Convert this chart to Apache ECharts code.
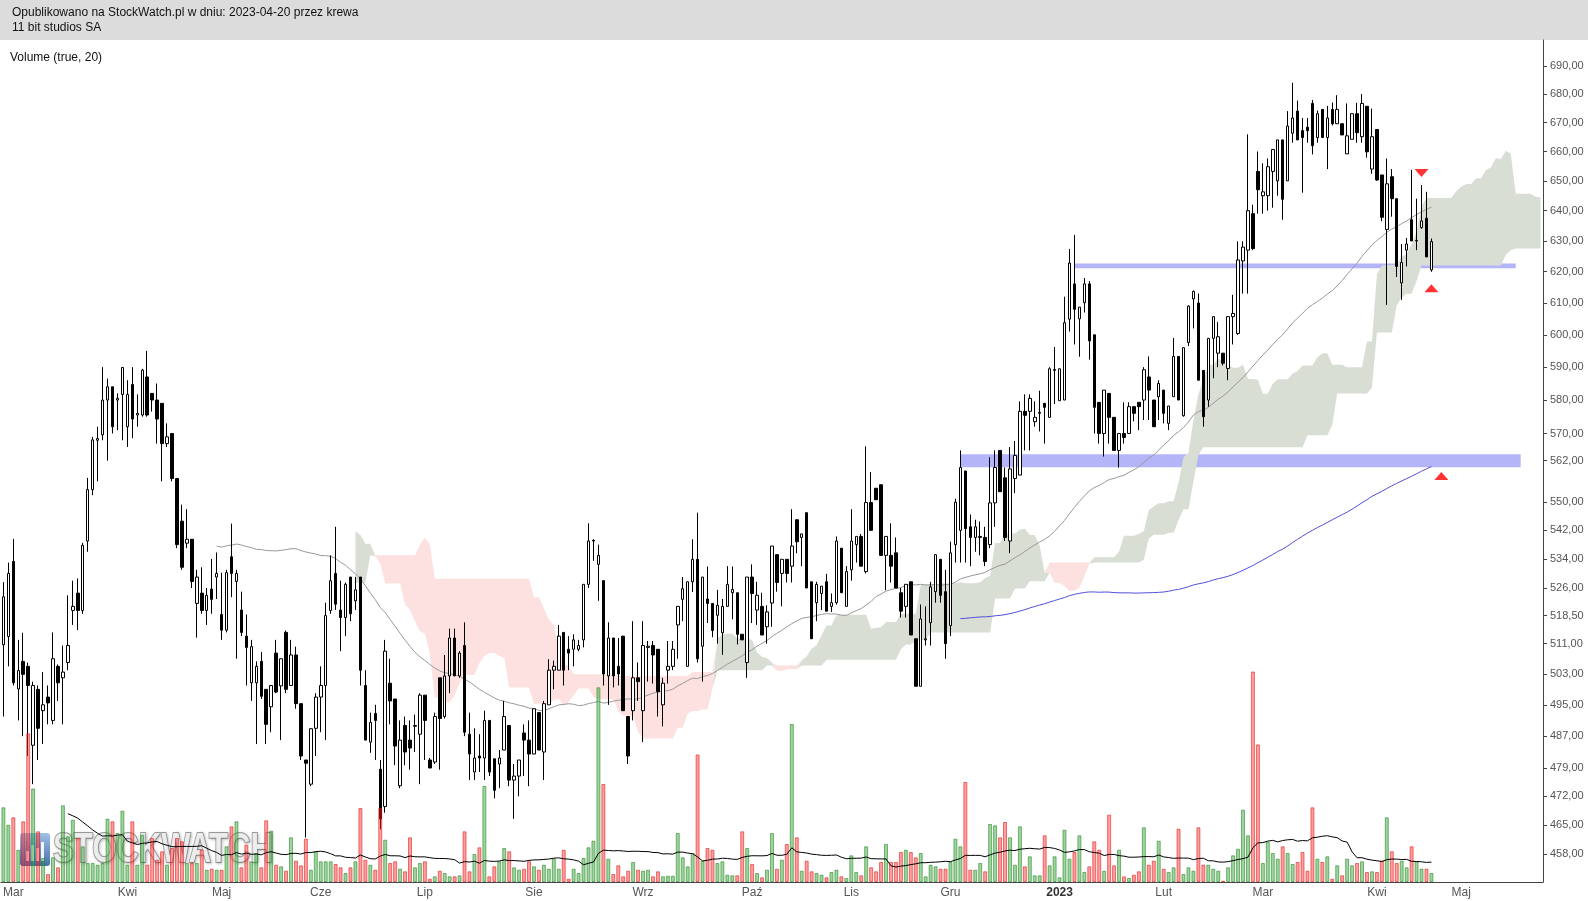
<!DOCTYPE html>
<html><head><meta charset="utf-8">
<script src="https://cdn.jsdelivr.net/npm/echarts@6/dist/echarts.min.js"></script>
<style>html,body{margin:0;padding:0;background:#fff}#c{width:1588px;height:901px}</style>
</head><body><div id="c"></div>
<script>
// ---- daily candles, 11 bit studios SA (visible window) ----
const opens = [
510.7,512.9,533.3,499.1,506.3,505,484.7,499,493.5,497,
491,505,502,506,519.9,524.6,519.9,539,553.6,568,
569.6,580,584,580,581.7,572,584.7,575.5,575.5,587,
582,580,579,567,570,556.8,544.6,538.4,539.5,521.8,
524.6,519.9,525.7,529,518.8,514.6,534.6,527.8,520,513,
500.7,500.7,506.3,499,494.5,508.5,499.9,514,500,508,
495.3,481,475,489,497,500,519.9,530,520,518,
529,522.5,529,500,485.5,492.8,478.7,469.5,500.6,496.5,
474.6,489.7,486,489.5,487.5,497.5,481,480.5,502,492,
502.5,512.5,502.5,510.5,487.5,478,482,481.5,491,481.3,
480,483.5,489.7,476,477,487.8,486,482.5,493,483,
495,504,504,514,509.5,509.5,509.5,512,527,539,
532.5,528,502.5,512.5,505,513,492,493.5,502,493.5,
510,510.5,509.5,495,504,505,516,522.9,505,527.7,
533.9,510.3,523,521.8,518.6,513.9,521,524.7,524.7,513.5,
506,529,520,521,515.5,521.9,535.2,530,533.9,532,
545,540,547,527.7,522,524.5,527.7,521,522,537,
521,531,538,540.3,530.5,549.9,554,555,535,535,
535.7,524.7,521,527.7,512.3,499.8,512,516.6,525,533.9,
525,515.8,538,542,559,543,540,540,540,538,
549.8,565,557,539,556.8,557.8,576.6,576.6,573.5,576,
579,574.8,589,579.8,580,604.9,616.1,605,610.1,616.1,
600,579.3,570,582,574.8,565,570,570,578,579.3,
580,587,580,581,583,573,581,593.3,575.3,597.6,
611.3,610,589,580,598.9,594.3,594.3,589.6,605.7,600.4,
623.5,627,639,653.2,645,645,653.2,650,664,650,
666.3,674,667.2,668.4,676.7,664.8,674.6,664.8,674.6,669.6,
669.6,659.2,664.2,673.1,665.1,675.7,654,667.6,652,633.8,
651.4,644,616.4,627,637,630,634.4,637.5,620.6
];
const highs = [
527.6,533,539.6,512,513.9,506,501,500,503.5,500,
514,505.5,510.5,524,528,528.6,538.5,557,569,572,
590,586.5,584,582,590,586,590,581.7,589.5,595,
582,585,579,573,570,557,549.3,548,539.5,531,
531.7,526,534,535.8,530.2,531,543.9,531,525,518.8,
512,506.3,508.8,499,500,512,507,514.5,512,510.2,
495.3,481,489,498,505,522,535,543,528,527.5,
529,529,529,504,493,495,481,512,507,496.5,
491,492,491,492.5,498,497.5,481.5,493,502,508,
515,515,509,516.7,493,489,487.5,493.5,491,481.3,
483.5,496,489.7,480,481,490,491,494,493,496,
506.9,506.5,516,514,513,513.5,512,527,544,539.5,
538,528,516.7,512.5,512.5,513,492,517,506,517,
511.7,511.7,509.5,502,511.7,511.7,521,529,527.7,539.5,
547,529,531.9,521.8,525.5,523,532,531.9,524.7,513.5,
529,532.5,527.7,524.7,521.3,537.6,535.2,533.9,533.9,548,
545,541,547,527.7,527.7,526.5,529.9,524.5,540.3,537,
532,548,540.3,541,566.2,558.7,554,555,540.3,544,
540,526,527,527.7,512.3,521.5,521,527.7,535.2,533.9,
531,538.8,551,565,559,546.5,545,544.5,543,563,
565,565,560,566,567.8,579.6,581.7,581.7,579.6,582.8,
579,590,596.2,589.5,612,627.4,632,608.7,618,617,
600,579.3,583,582,574.8,570,579.3,579.3,578,579.3,
590,593.3,580,586,583,578.2,599,593.3,596,609.3,
614,613,589,599,605.7,604,594.3,605.7,612.6,629.9,
629.9,665.9,642,660,656,657.6,660.7,664,664,674,
684,677.7,671.6,671.6,677.9,674.2,674.6,675.8,677,679.6,
669.6,676.7,673.1,676.9,680,675.7,674.9,667.6,652,657.6,
654,644,629,631,653.7,644,648.6,646.3,630.8
];
const lows = [
492,505,500,491,487,482,475,481,485,490,
490,496,490,504,516,514.6,519,536,552,556,
568,562,570,571,568,566,568.6,572,575,575,
576.5,567,556,566,556,537,531,537,526,512.6,
519,516,519,523,512,514,523.5,507,513,500,
496,485,496.5,485,488,498,486,498,500,494,
481,462,474.5,482,488,486,519,520,509,513,
517,520,500,486,482.8,481,464,468,490,479.7,
474,479.7,478.6,483,475,481,479,480,478.6,491.5,
498,502.5,502,487,476,476,478,476,477,471.5,
474,483.5,474.5,466.5,472,477,474.5,482.5,483.5,476,
495,499,504,500,504,505,509,510,526,533.5,
522.5,500,495,499.5,500,493.5,480,491,496,485.5,
501,500.5,492,489.5,500.5,504,507,517,505,524.9,
506,501,516.5,512.7,511,508,521,517.5,510.8,512,
502,516.5,516,513.3,511,515.5,525,521,527.5,527.5,
535.6,532,526,512.3,517,520,519.7,519.5,521.5,524.7,
521,528,533,532,530,542,550.7,535,525.4,527.5,
526,518,518,513.3,499.8,499.8,510.5,510.5,522,522,
507,513,533,533,533,532,536,535,532,537,
543,553,539,535.6,552.6,557.8,565,565,572,570.6,
567,574.8,578.8,579.8,580,601,597,593.2,607,592.3,
570,567,563.2,567,565,560,567,570,573.6,571,
574,574,572,574,573,571,581,580,575,596.5,
602,586,572,578,586.6,590,590.5,586,597,600,
613,613,627,639,639,640,641,645,637,650,
663,664,646,663,659,663,664.8,654,669,669.6,
665.7,659.2,664.2,663,663,657.9,652.4,650,636.5,609.4,
638,618.3,611,621.7,630,627,634,624.8,620
];
const closes = [
523.6,530,500.7,503.9,502.9,500,500,489,495,495.5,
507,500.7,503.5,510.5,521,519.9,537.8,553.6,568.1,568.5,
580,584,572,580.5,589.9,581.7,574.3,576,589.1,575.5,
580,574.3,567,569,556.8,538,531.7,539.5,527.8,529,
519.9,524,522.9,530,514.6,530.2,530,530,514,510,
510.2,505,497.2,490,500,498.3,507,499,508,495.3,
482,480.2,488.9,497,500,518.5,528,521.6,518,527,
519,525.5,504,486,490.5,491,466.5,509,496,484.5,
486,483,484,489.7,497.5,491,479,492,491.5,502.5,
512.5,502.5,508.5,488,482.5,481.5,481.5,491,478,473.5,
481.5,492,476,477,481,486,482.5,494,483.5,495.3,
504,505,513,504,508.5,512,510.5,527,539,539.2,
535,503,512.5,502.5,503,493.5,482,502,501,510.5,
510.3,508,498.4,500.6,505,509.5,521,525.8,527.7,533.9,
507,529,521.8,514.5,521.3,521,527,525.6,513.5,512,
529,524.5,524,513.3,519.5,537.6,527.5,533.9,530,537.6,
538.8,541,526,512.3,527,526.5,519.7,522,539,524.7,
530.5,539,540.3,532,549.9,542,550.7,535,540.3,532,
526,519.7,527,513.3,499.8,517.6,512.3,526.3,535.2,524,
511,535.7,550,560,542.5,540,543,540.3,533.3,549.8,
560,553,540,559.6,563.5,576.6,575.4,580.5,574.8,576.3,
577.8,589.5,589.3,589.5,603.8,622.8,608,608.7,616.1,598.1,
577.8,570,583,574.8,565,570,568.8,578,576,578,
589.2,583,572,585,576,578.2,593.3,580,596,609,
613.7,586,575,598.9,605.7,599.4,591.2,605.7,606.7,623.8,
628,640,627.5,647,646.3,654.8,660.7,664,643.8,668.8,
671.6,664,664.8,667.2,662,673.1,664.8,671.6,669.6,674.6,
665.7,665.4,673.1,666.5,676.7,659.9,665.1,650.3,637.8,649,
644,621.7,623,629,630,630.2,636.6,624.8,629.8
];
const volumes = [
14940,11460,12940,6460,12140,29740,18700,10140,4800,1600,
4940,2940,15340,9140,12460,8800,7140,3800,3800,3460,
3800,12660,12140,9800,14260,3460,12140,3460,9460,3460,
8800,4460,6140,3460,6800,8800,8140,3800,3800,3800,
6460,2460,2660,2460,2460,7140,11140,12140,2940,7460,
4140,5800,2940,12340,10260,3460,3140,2260,8940,4260,
3340,8660,2460,6140,4140,4140,4140,3600,2940,1800,
2940,4140,14800,4460,3460,2460,14800,8460,3800,4140,
2660,2140,8940,2940,3800,4140,660,1140,2260,1800,
1140,1140,1340,10140,2140,5600,6940,19200,1140,3140,
4140,6800,6140,2940,2460,2660,4140,3140,2460,3460,
2660,4660,2660,6460,660,2660,1800,4800,6940,8260,
38940,19600,4660,1600,3340,1140,2260,4000,2460,2260,
2460,1140,2140,1140,1260,1260,9800,4940,3140,5800,
25500,4260,6800,6460,3800,4140,1460,1340,1340,10140,
6800,3600,1800,940,2460,9800,2660,4460,7600,31600,
8940,2260,4260,2140,1800,1460,940,2000,2460,1140,
800,5340,2000,1340,7140,2940,2140,4000,7600,4000,
4000,6000,6460,6000,4940,5800,1140,3460,3140,2660,
2660,4000,8660,7140,20000,2460,2460,3800,2140,11600,
11340,8940,12000,8940,3460,11140,3140,5140,1340,1340,
9340,3340,5140,940,10460,4660,6000,9340,2000,3140,
8140,6460,2260,13460,3340,6460,1140,800,1460,2140,
10940,3460,4260,8260,2660,2000,2940,10660,1600,2940,
2260,10940,3460,3460,2660,2260,260,2940,5340,6660,
14460,9340,42100,27520,3800,8000,5800,4660,7140,5800,
3600,4000,6000,2260,14940,4660,4000,5140,660,3340,
1340,4660,3340,3800,4140,2000,2140,2000,4260,12940,
6140,3800,4260,2940,7140,4140,2660,2660,1800
];
// pre-window history (estimated, not drawn) needed to start the indicators
const warmOpens = [540,528,505,522,516,528];
const warmHighs = [545,530,525,532,534,536];
const warmLows = [528,510,460,510,512,522];
const warmCloses = [530,512,520,515,528,531];
const warmVolumes = [21000,18000,23000,19000,20000,17000];

// axis ticks / labels
const monthTicks = [[2,'Mar'],[25,'Kwi'],[44,'Maj'],[64,'Cze'],[85,'Lip'],[107,'Sie'],[129,'Wrz'],[151,'Paź'],[171,'Lis'],[191,'Gru'],[213,'2023'],[234,'Lut'],[254,'Mar'],[277,'Kwi'],[294,'Maj']];
const priceTicks = [690,680,670,660,650,640,630,620,610,600,590,580,570,562,550,542,534,526,518.5,511,503,495,487,479,472,465,458];
// support bands: [fromIndex, toIndex, lowPrice, highPrice]
const supportBands = [[216,305,621.1,622.7],[193,306,560.1,563.9]];
// signal triangles: [index, price, direction]
const signals = [[286,652.7,'down'],[288,614.7,'up'],[290,557.5,'up']];

const SLOTS = 311;
const PRICE_MIN = 451.44, PRICE_MAX = 699.39;
const VOL_MAX = 168400;

const L = Math.log;
const W = warmCloses.length;
const N = closes.length;
const allH = warmHighs.concat(highs), allL = warmLows.concat(lows), allC = warmCloses.concat(closes), allV = warmVolumes.concat(volumes);
const cats = Array.from({length: SLOTS}, (_, i) => String(i));
function sma(arr, n, j){ let s = 0; for (let k = j-n+1; k <= j; k++) s += arr[k]; return s/n; }
const ma50 = [], ma200 = [], vma20 = [];
for (let i = 0; i < N; i++) {
  const j = i + W;
  ma50.push(j >= 49 ? L(sma(allC, 50, j)) : '-');
  ma200.push(j >= 199 ? L(sma(allC, 200, j)) : '-');
  vma20.push(j >= 19 ? sma(allV, 20, j) : '-');
}
function mid(j, n){ let hh = -Infinity, ll = Infinity; for (let k = j-n+1; k <= j; k++){ hh = Math.max(hh, allH[k]); ll = Math.min(ll, allL[k]); } return (hh+ll)/2; }
const cloudLow = Array(SLOTS).fill('-'), cloudUp = Array(SLOTS).fill('-'), cloudDown = Array(SLOTS).fill('-');
for (let j = 51; j < allC.length; j++) {
  const x = j - W + 26;
  if (x >= SLOTS) continue;
  const a = L((mid(j,9) + mid(j,26))/2), b = L(mid(j,52));
  cloudLow[x] = Math.min(a,b); cloudUp[x] = Math.max(a-b,0); cloudDown[x] = Math.max(b-a,0);
}
const candles = opens.map((o,i) => [L(o), L(closes[i]), L(lows[i]), L(highs[i])]);
const volData = volumes.map((v,i) => {
  const up = closes[i] >= opens[i];
  return {value: v, itemStyle: {color: up ? 'rgba(40,160,40,0.45)' : 'rgba(255,40,40,0.45)', borderColor: up ? 'rgba(30,130,30,0.55)' : 'rgba(220,20,20,0.55)'}};
});
const tickMap = new Map(monthTicks);
const tickFn = (idx) => tickMap.has(idx);
const FONT = '"Liberation Sans", Arial, "DejaVu Sans", sans-serif';

const chart = echarts.init(document.getElementById('c'), null, {width:1588, height:901, renderer:'canvas'});
chart.setOption({
  animation: false,
  backgroundColor: '#fff',
  textStyle: {fontFamily: FONT},
  grid: {left: 0, right: 45, top: 40, bottom: 19, containLabel: false},
  xAxis: {
    type: 'category', data: cats, boundaryGap: true,
    axisLine: {lineStyle: {color: '#444'}},
    axisTick: {interval: tickFn, alignWithLabel: true, length: 4, lineStyle: {color: '#444'}},
    axisLabel: {interval: tickFn, color: '#555', fontSize: 12, fontFamily: FONT, margin: 5,
      formatter: (v) => { const t = tickMap.get(Number(v)) || ''; return /^\d{4}$/.test(t) ? '{b|' + t + '}' : t; },
      rich: {b: {fontWeight: 'bold', color: '#333', fontSize: 12, fontFamily: FONT}}},
    splitLine: {show: false}
  },
  yAxis: [
    {type: 'value', position: 'right', min: L(PRICE_MIN), max: L(PRICE_MAX),
     axisLine: {show: true, lineStyle: {color: '#444'}},
     axisTick: {show: true, length: 4, customValues: priceTicks.map(L), lineStyle: {color: '#444'}},
     axisLabel: {customValues: priceTicks.map(L), color: '#555', fontSize: 11, fontFamily: FONT, margin: 7,
       formatter: (v) => Math.exp(v).toFixed(2).replace('.', ',')},
     splitLine: {show: false}},
    {type: 'value', min: 0, max: VOL_MAX, show: false}
  ],
  series: [
    {type: 'line', stack: 'cloud', data: cloudLow, symbol: 'none', silent: true, lineStyle: {opacity: 0}, z: 1},
    {type: 'line', stack: 'cloud', data: cloudUp, symbol: 'none', silent: true, lineStyle: {opacity: 0}, areaStyle: {color: '#d9ded5', opacity: 1}, z: 1},
    {type: 'line', stack: 'cloud', data: cloudDown, symbol: 'none', silent: true, lineStyle: {opacity: 0}, areaStyle: {color: '#fde1e1', opacity: 1}, z: 1},
    {type: 'line', data: ma50, symbol: 'none', silent: true, lineStyle: {width: 1, color: '#999'}, z: 3,
     markArea: {silent: true, itemStyle: {color: 'rgba(140,140,245,0.65)'},
       data: supportBands.map(b => [{xAxis: String(b[0]), yAxis: L(b[2])}, {xAxis: String(b[1]), yAxis: L(b[3])}])}},
    {type: 'line', data: ma200, symbol: 'none', silent: true, lineStyle: {width: 1, color: '#5050dc'}, z: 3},
    {type: 'candlestick', data: candles, barWidth: 3, silent: true, z: 4,
     itemStyle: {color: '#fff', color0: '#000', borderColor: '#000', borderColor0: '#000', borderWidth: 1}},
    {type: 'bar', yAxisIndex: 1, data: volData, barWidth: 4, silent: true, z: 5, itemStyle: {borderWidth: 1}},
    {type: 'line', yAxisIndex: 1, data: vma20, symbol: 'none', silent: true, lineStyle: {width: 1, color: '#000'}, z: 6},
    {type: 'scatter', data: signals.map(s => ({value: [String(s[0]), L(s[1])], symbolRotate: s[2] === 'down' ? 180 : 0})),
     symbol: 'triangle', symbolSize: [14, 8], silent: true, itemStyle: {color: '#ff0000'}, z: 7}
  ],
  graphic: [
    {type: 'rect', left: 0, top: 0, shape: {width: 1588, height: 40}, style: {fill: '#dcdcdc'}, z: 0},
    {type: 'text', left: 12, top: 7, style: {text: 'Opublikowano na StockWatch.pl w dniu: 2023-04-20 przez krewa', font: '12px ' + FONT, fill: '#111'}, z: 10},
    {type: 'text', left: 12, top: 22, style: {text: '11 bit studios SA', font: '12px ' + FONT, fill: '#111'}, z: 10},
    {type: 'text', left: 10, top: 52, style: {text: 'Volume (true, 20)', font: '12px ' + FONT, fill: '#111'}, z: 10},
    {type: 'group', left: 20, top: 828, z: 100, children: [
      {type: 'rect', shape: {x: 0, y: 0, width: 30, height: 33, r: 3},
       style: {fill: new echarts.graphic.LinearGradient(0,0,0,1,[{offset:0,color:'rgba(150,185,225,0.9)'},{offset:1,color:'rgba(50,95,170,0.9)'}])}},
      {type: 'rect', shape: {x: 6, y: 18, width: 3, height: 10}, style: {fill: 'rgba(255,255,255,0.9)'}},
      {type: 'rect', shape: {x: 11, y: 12, width: 3, height: 16}, style: {fill: 'rgba(255,255,255,0.9)'}},
      {type: 'rect', shape: {x: 16, y: 15, width: 3, height: 13}, style: {fill: 'rgba(255,255,255,0.9)'}},
      {type: 'rect', shape: {x: 21, y: 9, width: 3, height: 19}, style: {fill: 'rgba(255,255,255,0.9)'}},
      {type: 'text', x: 33, y: -4, scaleX: 0.74, style: {text: 'STOCKWATCH', font: 'bold 42px "Liberation Sans", sans-serif',
        fill: 'rgba(240,240,240,0.92)', stroke: 'rgba(110,110,110,0.65)', lineWidth: 2,
        textShadowColor: 'rgba(0,0,0,0.25)', textShadowBlur: 3, textShadowOffsetX: 1, textShadowOffsetY: 1}}
    ]}
  ]
});
</script>
</body></html>
